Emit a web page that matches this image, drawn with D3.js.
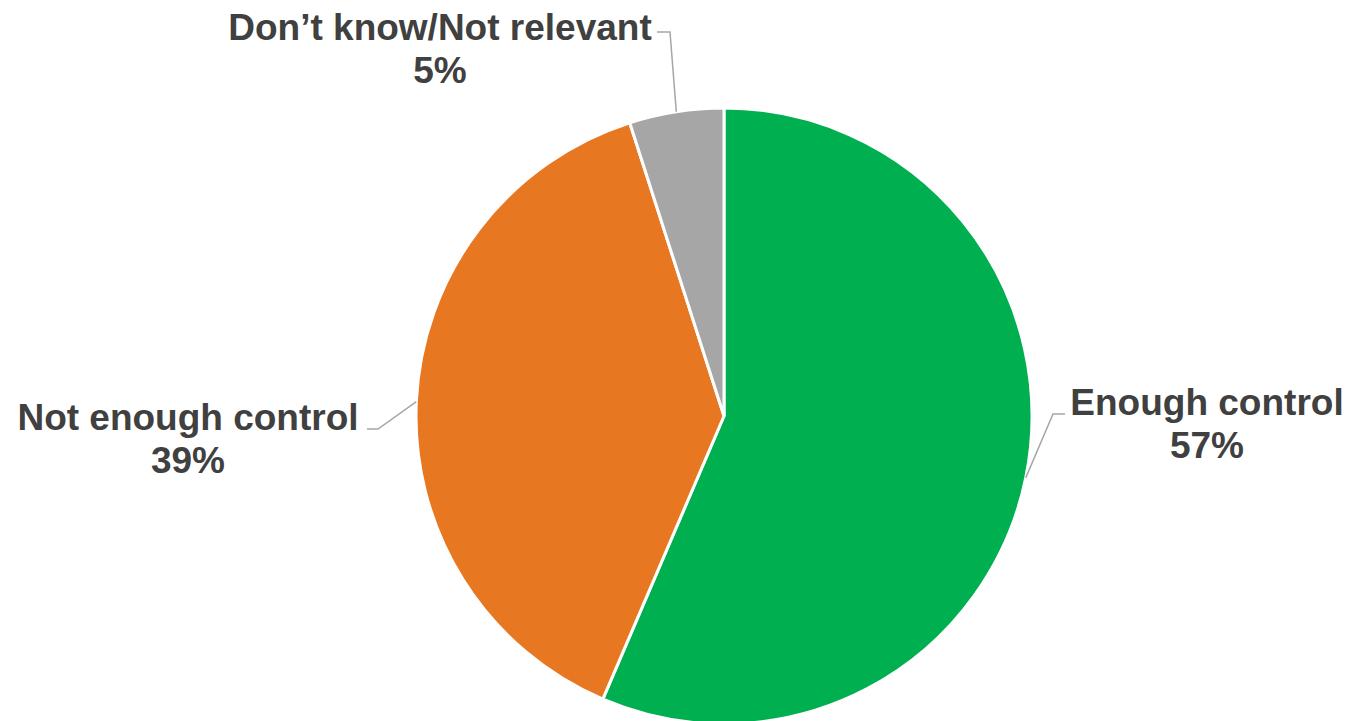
<!DOCTYPE html>
<html>
<head>
<meta charset="utf-8">
<script src="https://cdn.jsdelivr.net/npm/d3@7"></script>
<style>
  html, body { margin: 0; padding: 0; background: #fff; }
  svg { display: block; }
</style>
</head>
<body>
<svg id="chart" width="1350" height="721"></svg>
<script>
const categories = ["Enough control", "Not enough control", "Don\u2019t know/Not relevant"];
const values = [57, 39, 5];
const valueLabels = ["57%", "39%", "5%"];
const colors = ["#00B050", "#E87722", "#A6A6A6"];

const width = 1350, height = 721;
const cx = 724, cy = 416, r = 308;

const svg = d3.select("#chart");
const g = svg.append("g").attr("transform", `translate(${cx},${cy})`);

const pie = d3.pie().sort(null).value(d => d.value);
const data = categories.map((c, i) => ({ name: c, value: values[i], label: valueLabels[i], color: colors[i] }));
const arcs = pie(data);
const arc = d3.arc().innerRadius(0).outerRadius(r);

g.selectAll("path.slice")
  .data(arcs)
  .join("path")
  .attr("class", "slice")
  .attr("d", arc)
  .attr("fill", d => d.data.color)
  .attr("stroke", "#fff")
  .attr("stroke-width", 3)
  .attr("stroke-linejoin", "round");

// label layout (absolute page coordinates for label text and elbow)
const labelLayout = [
  { x: 1207, y: 415, anchor: "middle", elbow: [[1053, 414], [1065, 414]] },
  { x: 188, y: 430, anchor: "middle", elbow: [[378, 429], [367, 429]] },
  { x: 440, y: 40, anchor: "middle", elbow: [[670, 32], [657, 32]] }
];

const lbl = svg.append("g");
arcs.forEach((a, i) => {
  const mid = (a.startAngle + a.endAngle) / 2;
  const sx = cx + r * Math.sin(mid);
  const sy = cy - r * Math.cos(mid);
  const L = labelLayout[i];
  const pts = [[sx, sy]].concat(L.elbow);
  lbl.append("path")
    .attr("d", d3.line()(pts))
    .attr("fill", "none")
    .attr("stroke", "#A6A6A6")
    .attr("stroke-width", 1.5);
  const t = lbl.append("text")
    .attr("x", L.x)
    .attr("y", L.y)
    .attr("text-anchor", L.anchor)
    .attr("font-family", "'Liberation Sans', Arial, sans-serif")
    .attr("font-weight", "bold")
    .attr("font-size", 37)
    .attr("fill", "#404040");
  t.append("tspan").attr("x", L.x).text(a.data.name);
  t.append("tspan").attr("x", L.x).attr("dy", 42.5).text(a.data.label);
});
</script>
</body>
</html>
